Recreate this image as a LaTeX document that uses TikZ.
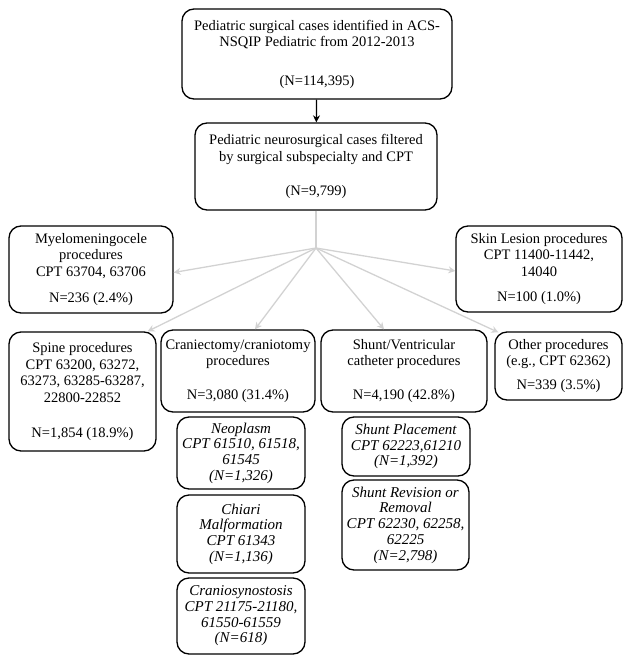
\documentclass[tikz,border=0pt]{standalone}
\usepackage{fontspec}
\setmainfont{Liberation Serif}
\usetikzlibrary{arrows.meta}

\definecolor{linkgray}{HTML}{D2D2D2}

\tikzset{
    box/.style={draw, rounded corners=12pt, line width=1.3pt, align=center,
        inner sep=0pt, font=\fontsize{14.5}{16.5}\selectfont},
    subbox/.style={box, font=\fontsize{15}{15.7}\selectfont\itshape},
    link/.style={draw=linkgray, line width=1.3pt, -{Stealth[length=7pt,width=7pt]}}
}

\begin{document}
\begin{tikzpicture}[x=1pt, y=-1pt]
    \useasboundingbox (0, 0) rectangle (630, 664);

    % top of the funnel
    \node[box, minimum width=270pt, minimum height=90pt] (all) at (317, 54)
        {Pediatric surgical cases identified in ACS-\\NSQIP Pediatric from 2012-2013\\[22pt](N=114,395)};
    \node[box, minimum width=242pt, minimum height=87pt] (neuro) at (316, 166.5)
        {Pediatric neurosurgical cases filtered\\by surgical subspecialty and CPT\\[17.5pt](N=9,799)};

    % procedure groups
    \node[box, minimum width=164pt, minimum height=87pt] (myelo) at (91, 269.5)
        {Myelomeningocele\\procedures\\CPT 63704, 63706\\[9.5pt]N=236 (2.4\%)};
    \node[box, minimum width=166pt, minimum height=86pt] (skin) at (539, 269)
        {Skin Lesion procedures\\CPT 11400-11442,\\14040\\[8.5pt]N=100 (1.0\%)};
    \node[box, minimum width=147pt, minimum height=119pt] (spine) at (82.5, 391.5)
        {Spine procedures\\CPT 63200, 63272,\\63273, 63285-63287,\\22800-22852\\[18.5pt]N=1,854 (18.9\%)};
    \node[box, minimum width=154pt, minimum height=82pt] (crani) at (238, 371)
        {Craniectomy/craniotomy\\procedures\\[17.5pt]N=3,080 (31.4\%)};
    \node[box, minimum width=166pt, minimum height=82pt] (shunt) at (404, 371)
        {Shunt/Ventricular\\catheter procedures\\[17.5pt]N=4,190 (42.8\%)};
    \node[box, minimum width=127pt, minimum height=68pt] (other) at (558.5, 366)
        {Other procedures\\(e.g., CPT 62362)\\[7.5pt]N=339 (3.5\%)};

    % craniectomy subgroups
    \node[subbox, minimum width=128pt, minimum height=72pt] (neoplasm) at (241, 453)
        {Neoplasm\\CPT 61510, 61518,\\61545\\(N=1,326)};
    \node[subbox, minimum width=128pt, minimum height=78pt] (chiari) at (241, 534)
        {Chiari\\Malformation\\CPT 61343\\(N=1,136)};
    \node[subbox, minimum width=128pt, minimum height=76pt] (synost) at (241, 616)
        {Craniosynostosis\\CPT 21175-21180,\\61550-61559\\(N=618)};

    % shunt subgroups
    \node[subbox, minimum width=128pt, minimum height=59pt] (placement) at (406, 446.5)
        {Shunt Placement\\CPT 62223,61210\\(N=1,392)};
    \node[subbox, minimum width=127pt, minimum height=90pt] (revision) at (405.5, 525)
        {Shunt Revision or\\Removal\\CPT 62230, 62258,\\62225\\(N=2,798)};

    % connectors
    \draw[line width=1.3pt, -{Stealth[length=7pt,width=7pt]}] (all) -- (neuro);
    \coordinate (hub) at (316, 248);
    \draw[draw=linkgray, line width=1.3pt] (neuro) -- (hub);
    \draw[link] (hub) -- ([yshift=-3pt]myelo.east);
    \draw[link] (hub) -- ([yshift=-2pt]skin.west);
    \draw[link] (hub) -- ([xshift=-9pt]spine.north east);
    \draw[link] (hub) -- ([xshift=17pt]crani.north);
    \draw[link] (hub) -- ([xshift=-20pt]shunt.north);
    \draw[link] (hub) -- ([xshift=4pt, yshift=-1pt]other.north west);
\end{tikzpicture}
\end{document}
